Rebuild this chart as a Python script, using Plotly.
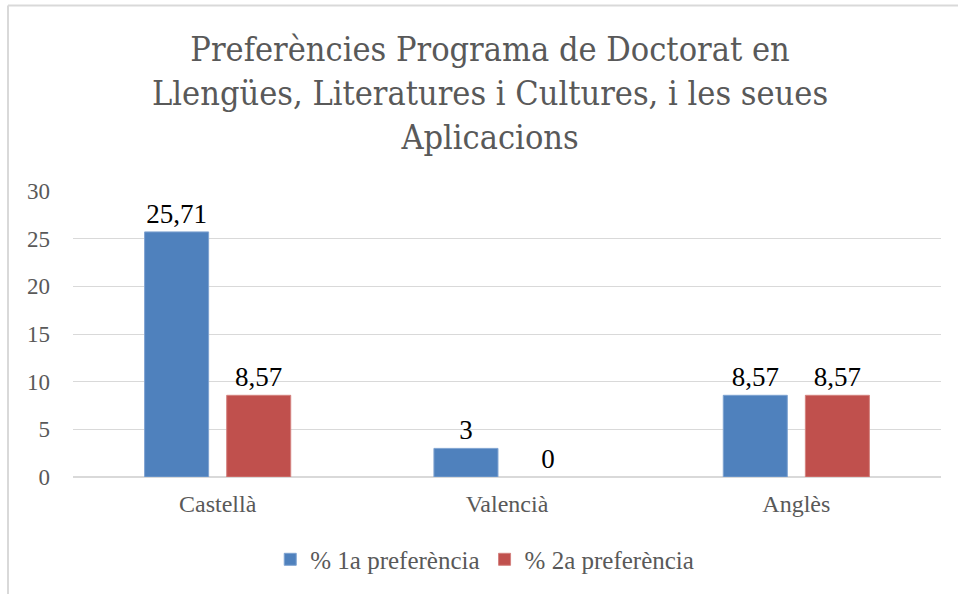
import plotly.graph_objects as go

categories = ["Castellà", "Valencià", "Anglès"]
series1_name = "% 1a preferència"
series2_name = "% 2a preferència"
series1 = [25.71, 3, 8.57]
series2 = [8.57, 0, 8.57]
labels1 = ["25,71", "3", "8,57"]
labels2 = ["8,57", "0", "8,57"]
tick_vals = [0, 5, 10, 15, 20, 25, 30]
title_text = "Preferències Programa de Doctorat en<br>Llengües, Literatures i Cultures, i les seues<br>Aplicacions"

serif = "Liberation Serif, DejaVu Serif, serif"

fig = go.Figure()
fig.add_trace(go.Bar(
    x=categories, y=series1, name=series1_name,
    marker=dict(color="#4f81bd", line=dict(color="#7fa3d1", width=[1 if v else 0 for v in series1])),
    text=labels1, textposition="outside", cliponaxis=False,
    textfont=dict(family=serif, size=27, color="#000000"),
))
fig.add_trace(go.Bar(
    x=categories, y=series2, name=series2_name,
    marker=dict(color="#c0504d", line=dict(color="#d4827f", width=[1 if v else 0 for v in series2])),
    text=labels2, textposition="outside", cliponaxis=False,
    textfont=dict(family=serif, size=27, color="#000000"),
))

fig.update_layout(
    width=958, height=594,
    margin=dict(l=73, r=17, t=191, b=117),
    paper_bgcolor="white", plot_bgcolor="white",
    barmode="group", bargap=0.4325, bargroupgap=0.22,
    showlegend=True,
    legend=dict(
        orientation="h", x=0.506, xref="container", xanchor="center",
        y=0.058, yref="container", yanchor="middle",
        font=dict(family=serif, size=25, color="#595959"),
        itemwidth=30, traceorder="normal",
    ),
    xaxis=dict(
        showgrid=False, showline=False, ticks="", ticklabelstandoff=10,
        tickfont=dict(family=serif, size=24, color="#595959"),
    ),
    yaxis=dict(
        range=[0, 30], tickvals=tick_vals, showgrid=True,
        gridcolor="#d9d9d9", gridwidth=1, zeroline=True, zerolinecolor="#d9d9d9",
        showline=False, ticks="", ticklabelstandoff=22,
        tickfont=dict(family=serif, size=23, color="#595959"),
    ),
    annotations=[
        dict(text=title_text, xref="paper", yref="paper",
             x=(490 - 73) / 868, y=(477 - 93) / 286, xanchor="center", yanchor="middle",
             showarrow=False, align="center",
             font=dict(family="DejaVu Serif Condensed, Liberation Serif, serif", size=34, color="#595959")),
    ],
    shapes=[
        dict(type="line", xref="paper", yref="paper", x0=-0.0749, x1=1.02, y0=1.649, y1=1.649,
             line=dict(color="#d9d9d9", width=2)),
        dict(type="line", xref="paper", yref="paper", x0=-0.0749, x1=-0.0749, y0=-0.42, y1=1.649,
             line=dict(color="#d9d9d9", width=2)),
    ],
)

fig.write_html("out.html", config={"displayModeBar": False},
               post_script="document.body.style.margin='0';document.body.style.padding='0';")
